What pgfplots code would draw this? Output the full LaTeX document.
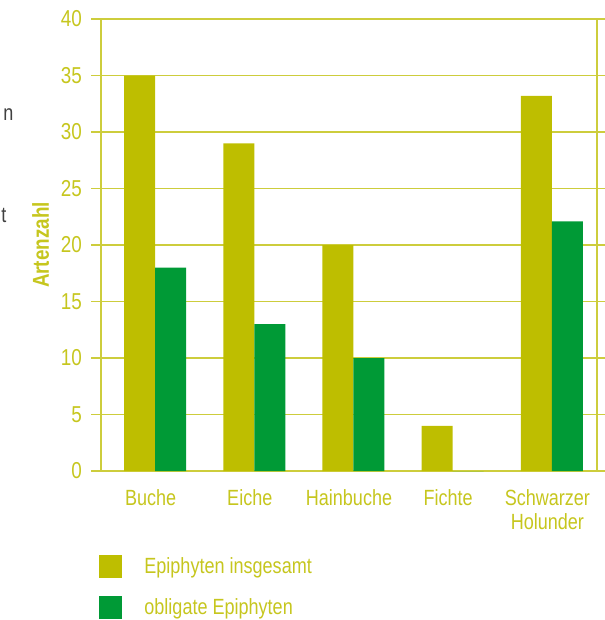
\documentclass[border=0pt]{standalone}
\usepackage{fontspec}
\setmainfont{Liberation Sans}[FakeStretch=0.82]
\usepackage{pgfplots}
\pgfplotsset{compat=1.18}
\usetikzlibrary{calc}

\definecolor{olivebar}{RGB}{190,190,0}
\definecolor{greenbar}{RGB}{0,154,54}
\definecolor{olivetext}{RGB}{198,198,30}
\definecolor{oliveline}{RGB}{205,205,60}

\begin{document}
\begin{tikzpicture}
\begin{axis}[
    width=248pt, height=226pt,
    scale only axis,
    ybar,
    bar width=15.5pt,
    ymin=0, ymax=40,
    ytick={0,5,...,40},
    xmin=-0.5, xmax=4.5,
    xtick={0,1,2,3,4},
    xticklabels={Buche,Eiche,Hainbuche,Fichte,{Schwarzer\\Holunder}},
    xticklabel style={align=center, text=olivetext, font=\fontsize{11}{12}\selectfont},
    yticklabel style={text=olivetext, font=\fontsize{11.5}{12}\selectfont},
    /pgf/number format/assume math mode=true,
    major x tick style={draw=none},
    extra x ticks={-0.5,0.5,1.5,2.5,3.5,4.5},
    extra x tick labels={},
    extra x tick style={major tick length=9pt, tick align=outside, tick style={draw=oliveline}, grid=none},
    tick align=outside,
    major tick length=5pt,
    tick style={draw=oliveline, line width=0.6pt},
    ymajorgrids,
    grid style={draw=oliveline, line width=0.6pt},
    axis line style={draw=oliveline, line width=0.6pt},
    ylabel={\textbf{Artenzahl}},
    ylabel style={text=olivetext, font=\fontsize{11.5}{12}\selectfont, yshift=-1pt},
    xticklabel shift=0.5pt,
    yticklabel shift=1pt,
    legend style={at={(rel axis cs:0,0)}, anchor=north west, xshift=-1pt, yshift=-41pt,
        draw=none, fill=none, font=\fontsize{11}{12}\selectfont, text=olivetext,
        row sep=7pt, inner sep=0pt, nodes={inner sep=2pt, anchor=west}},
    legend cell align=left,
    legend image code/.code={\fill[#1] (0pt,-5.75pt) rectangle (11.5pt,5.75pt);},
    /tikz/every odd column/.append style={column sep=9pt},
]
\addplot[fill=olivebar, draw=none, bar shift=-5.5pt] coordinates {(0,35) (1,29) (2,20) (3,4) (4,33.2)};
\addplot[fill=greenbar, draw=none, bar shift=10pt] coordinates {(0,18) (1,13) (2,10) (3,0) (4,22.1)};
\legend{Epiphyten insgesamt, obligate Epiphyten}
\coordinate (ll) at (rel axis cs:0,0);
\coordinate (ur) at (rel axis cs:1,1);
\end{axis}
\node[anchor=west, text=black!75, font=\fontsize{11}{12}\selectfont, inner sep=0pt] at ($(ll)+(-49pt,178pt)$) {n};
\node[anchor=west, text=black!75, font=\fontsize{11}{12}\selectfont, inner sep=0pt] at ($(ll)+(-50pt,128pt)$) {t};
\pgfresetboundingbox
\path ($(ll)+(-50.5pt,-74.5pt)$) rectangle ($(ur)+(3.5pt,9.5pt)$);
\end{tikzpicture}
\end{document}
